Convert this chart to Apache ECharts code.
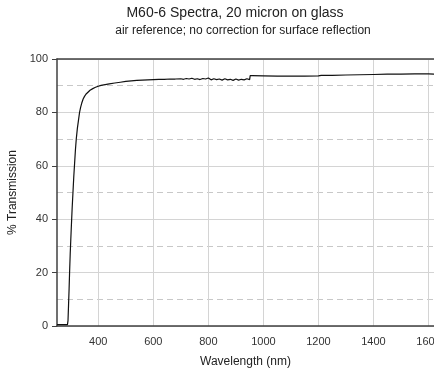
<!DOCTYPE html>
<html>
<head>
<meta charset="utf-8">
<script src="https://cdn.jsdelivr.net/npm/echarts@6/dist/echarts.min.js"></script>
<style>
  html, body { margin: 0; padding: 0; background: #fff; }
  #chart { width: 434px; height: 372px; }
</style>
</head>
<body>
<div id="chart"></div>
<script>
// wavelength (nm) and % transmission
const wavelength = [
  250, 260, 270, 280, 288, 290, 292, 294, 296, 298, 300, 302, 305, 308, 311,
  314, 317, 320, 324, 328, 332, 336, 340, 345, 350, 355, 360, 370, 380, 390,
  400, 410, 420, 430, 440, 460, 480, 500, 520, 540, 560, 580, 600, 620, 640,
  660, 680, 700, 710, 720, 730, 740, 750, 760, 770, 780, 790, 800, 810, 820,
  830, 840, 850, 860, 870, 880, 890, 900, 910, 920, 930, 940, 950, 952, 960,
  1000, 1050, 1100, 1150, 1200, 1210, 1250, 1300, 1350, 1400, 1450, 1500,
  1550, 1600, 1620
];
const transmission = [
  0.5, 0.5, 0.5, 0.5, 0.5, 2, 8, 14, 21, 27, 32, 37, 44, 50, 56,
  61, 66, 70, 74, 77, 80, 82, 83.5, 85, 86, 86.8, 87.4, 88.3, 88.9, 89.4,
  89.8, 90.1, 90.3, 90.5, 90.7, 91.0, 91.3, 91.6, 91.8, 92.0, 92.1, 92.2, 92.3, 92.4, 92.4,
  92.5, 92.5, 92.6, 92.4, 92.7, 92.5, 92.8, 92.4, 92.6, 92.3, 92.7, 92.5, 92.9, 92.2, 92.6,
  92.3, 92.5, 92.1, 92.6, 92.2, 92.4, 92.0, 92.5, 92.1, 92.4, 92.2, 92.6, 92.3, 93.8, 93.8,
  93.7, 93.6, 93.6, 93.6, 93.7, 93.9, 93.9, 94.0, 94.1, 94.2, 94.3, 94.3,
  94.4, 94.4, 94.3
];
const xTicks = [400, 600, 800, 1000, 1200, 1400, 1600];

const chart = echarts.init(document.getElementById("chart"), null, { renderer: "canvas" });

const font = "'Liberation Sans', Arial, sans-serif";

chart.setOption({
  animation: false,
  textStyle: { fontFamily: font },
  graphic: [
    {
      type: "text", x: 235, y: 6,
      style: { text: "M60-6 Spectra, 20 micron on glass", font: "14px " + font, fill: "#222", textAlign: "center" }
    },
    {
      type: "text", x: 243, y: 25,
      style: { text: "air reference; no correction for surface reflection", font: "12px " + font, fill: "#222", textAlign: "center" }
    }
  ],
  grid: { left: 57, right: 0, top: 59, bottom: 46, outerBoundsMode: "none" },
  xAxis: [
    {
      type: "value",
      min: 250,
      max: 1620,
      name: "Wavelength (nm)",
      nameLocation: "middle",
      nameGap: 30,
      nameTextStyle: { fontSize: 12, color: "#222" },
      axisLine: { lineStyle: { color: "#404040", width: 1.5 } },
      axisTick: { show: false, customValues: xTicks },
      axisLabel: { customValues: xTicks, formatter: (v) => String(v), fontSize: 11, color: "#333", margin: 10 },
      splitLine: { show: true, lineStyle: { color: "#d4d4d4", width: 1 } }
    },
    {
      type: "value",
      position: "top",
      min: 250,
      max: 1620,
      axisLine: { show: true, lineStyle: { color: "#404040", width: 1.5 } },
      axisTick: { show: false },
      axisLabel: { show: false },
      splitLine: { show: false }
    }
  ],
  yAxis: {
    type: "value",
    min: 0,
    max: 100,
    interval: 20,
    name: "% Transmission",
    nameLocation: "middle",
    nameGap: 36,
    nameTextStyle: { fontSize: 12, color: "#222" },
    axisLine: { show: true, lineStyle: { color: "#404040", width: 1.5 } },
    axisTick: { show: true, length: 5, lineStyle: { color: "#404040" } },
    axisLabel: { fontSize: 11, color: "#333", margin: 9 },
    splitLine: { show: true, lineStyle: { color: "#d4d4d4", width: 1 } },
    minorTick: { show: false, splitNumber: 2 },
    minorSplitLine: { show: true, lineStyle: { color: "#c8c8c8", type: [6, 4], width: 1 } }
  },
  series: [
    {
      type: "line",
      xAxisIndex: 0,
      data: wavelength.map((w, i) => [w, transmission[i]]),
      showSymbol: false,
      lineStyle: { color: "#111", width: 1.2 }
    }
  ]
});
</script>
</body>
</html>
